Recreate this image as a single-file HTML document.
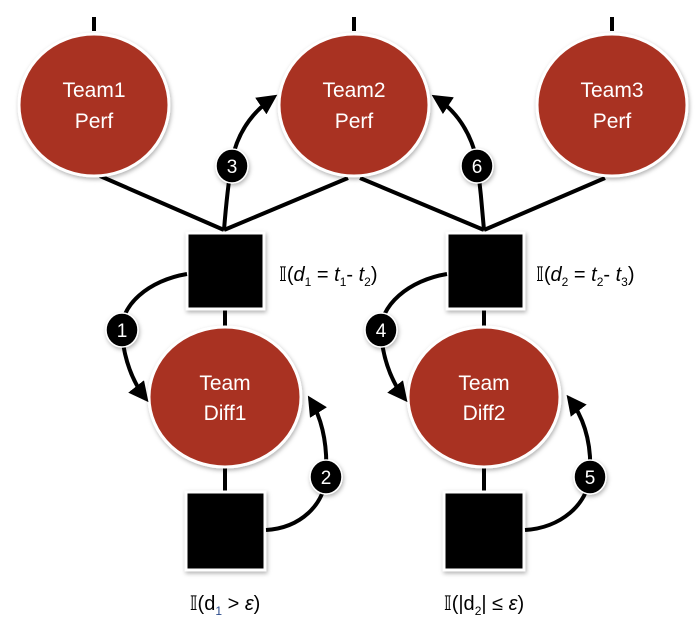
<!DOCTYPE html>
<html><head><meta charset="utf-8"><style>
html,body{margin:0;padding:0;background:#fff}
svg{display:block}
text{font-family:"Liberation Sans",sans-serif}
</style></head><body>
<svg width="699" height="631" viewBox="0 0 699 631" xmlns="http://www.w3.org/2000/svg">
<defs>
<marker id="ah" viewBox="0 0 10 10" refX="8" refY="5" markerWidth="5" markerHeight="5" orient="auto-start-reverse"><path d="M0,0 L10,5 L0,10 z" fill="#000"/></marker>
<filter id="sh" x="-20%" y="-20%" width="140%" height="140%"><feDropShadow dx="1" dy="2" stdDeviation="2" flood-color="#000" flood-opacity="0.3"/></filter>
</defs>
<g stroke="#000" stroke-width="4" fill="none">
<line x1="94" y1="17" x2="94" y2="31"/>
<line x1="354" y1="17" x2="354" y2="31"/>
<line x1="612" y1="17" x2="612" y2="31"/>
<line x1="100" y1="176" x2="224" y2="230"/>
<line x1="348" y1="178" x2="224" y2="230"/>
<line x1="360" y1="178" x2="484" y2="230"/>
<line x1="605" y1="178" x2="484" y2="230"/>
<line x1="225" y1="308" x2="225" y2="330"/>
<line x1="484" y1="308" x2="484" y2="330"/>
<line x1="225" y1="465" x2="225" y2="492"/>
<line x1="484" y1="465" x2="484" y2="492"/>
</g>
<g fill="#a93221" stroke="#fff" stroke-width="3" filter="url(#sh)">
<ellipse cx="94" cy="105" rx="75" ry="71"/>
<ellipse cx="354" cy="105" rx="75" ry="71"/>
<ellipse cx="612" cy="105" rx="75" ry="71"/>
<ellipse cx="225" cy="397" rx="76" ry="70"/>
<ellipse cx="484" cy="397" rx="76" ry="70"/>
</g>
<g fill="#000" stroke="#fff" stroke-width="3" filter="url(#sh)">
<rect x="187" y="233" width="77" height="76"/>
<rect x="447" y="233" width="77" height="76"/>
<rect x="186" y="492" width="79" height="78"/>
<rect x="444" y="492" width="80" height="78"/>
</g>
<g fill="#fff" font-size="21" text-anchor="middle">
<text x="94" y="97">Team1</text><text x="94" y="128">Perf</text>
<text x="354" y="97">Team2</text><text x="354" y="128">Perf</text>
<text x="612" y="97">Team3</text><text x="612" y="128">Perf</text>
<text x="225" y="390">Team</text><text x="225" y="420">Diff1</text>
<text x="484" y="390">Team</text><text x="484" y="420">Diff2</text>
</g>
<g stroke="#000" stroke-width="4" fill="none">
<path d="M187,274 C150,280 118,305 122,335 C125,365 135,385 146,399" marker-end="url(#ah)"/>
<path d="M266,530 C300,528 325,505 326,475 C328,440 320,415 310,399" marker-end="url(#ah)"/>
<path d="M224,230 C226,205 228,185 232,160 C238,130 255,110 274,97" marker-end="url(#ah)"/>
<path d="M484,230 C482,205 480,185 477,160 C470,130 455,110 435,97" marker-end="url(#ah)"/>
<path d="M447,274 C410,280 378,305 381,335 C384,365 394,385 405,399" marker-end="url(#ah)"/>
<path d="M525,530 C560,528 588,505 590,475 C592,440 582,415 569,398" marker-end="url(#ah)"/>
</g>
<g fill="#000" stroke="#fff" stroke-width="1.5" filter="url(#sh)">
<ellipse cx="122" cy="330" rx="16" ry="17"/>
<ellipse cx="326" cy="477" rx="16" ry="17"/>
<ellipse cx="232" cy="166" rx="16" ry="17"/>
<ellipse cx="477" cy="166" rx="16" ry="17"/>
<ellipse cx="381" cy="330" rx="16" ry="17"/>
<ellipse cx="590" cy="477" rx="16" ry="17"/>
</g>
<g fill="#fff" font-size="19" text-anchor="middle">
<text x="122" y="337">1</text><text x="326" y="484">2</text>
<text x="232" y="173">3</text><text x="477" y="173">6</text>
<text x="381" y="337">4</text><text x="590" y="484">5</text>
</g>
<g fill="#000" font-size="20" font-family="Liberation Sans,DejaVu Sans,sans-serif">
<text x="279" y="281">𝕀(<tspan font-style="italic">d</tspan><tspan font-size="12" dy="5">1</tspan><tspan dy="-5"> = </tspan><tspan font-style="italic">t</tspan><tspan font-size="12" dy="5">1</tspan><tspan dy="-5">- </tspan><tspan font-style="italic">t</tspan><tspan font-size="12" dy="5">2</tspan><tspan dy="-5">)</tspan></text>
<text x="536" y="281">𝕀(<tspan font-style="italic">d</tspan><tspan font-size="12" dy="5">2</tspan><tspan dy="-5"> = </tspan><tspan font-style="italic">t</tspan><tspan font-size="12" dy="5">2</tspan><tspan dy="-5">- </tspan><tspan font-style="italic">t</tspan><tspan font-size="12" dy="5">3</tspan><tspan dy="-5">)</tspan></text>
<text x="225" y="610" text-anchor="middle">𝕀(d<tspan font-size="12" dy="5" fill="#2a4a8a">1</tspan><tspan dy="-5"> &gt; </tspan><tspan font-style="italic">ε</tspan>)</text>
<text x="484" y="610" text-anchor="middle">𝕀(|d<tspan font-size="12" dy="5">2</tspan><tspan dy="-5">| ≤ </tspan><tspan font-style="italic">ε</tspan>)</text>
</g>
</svg>
</body></html>
